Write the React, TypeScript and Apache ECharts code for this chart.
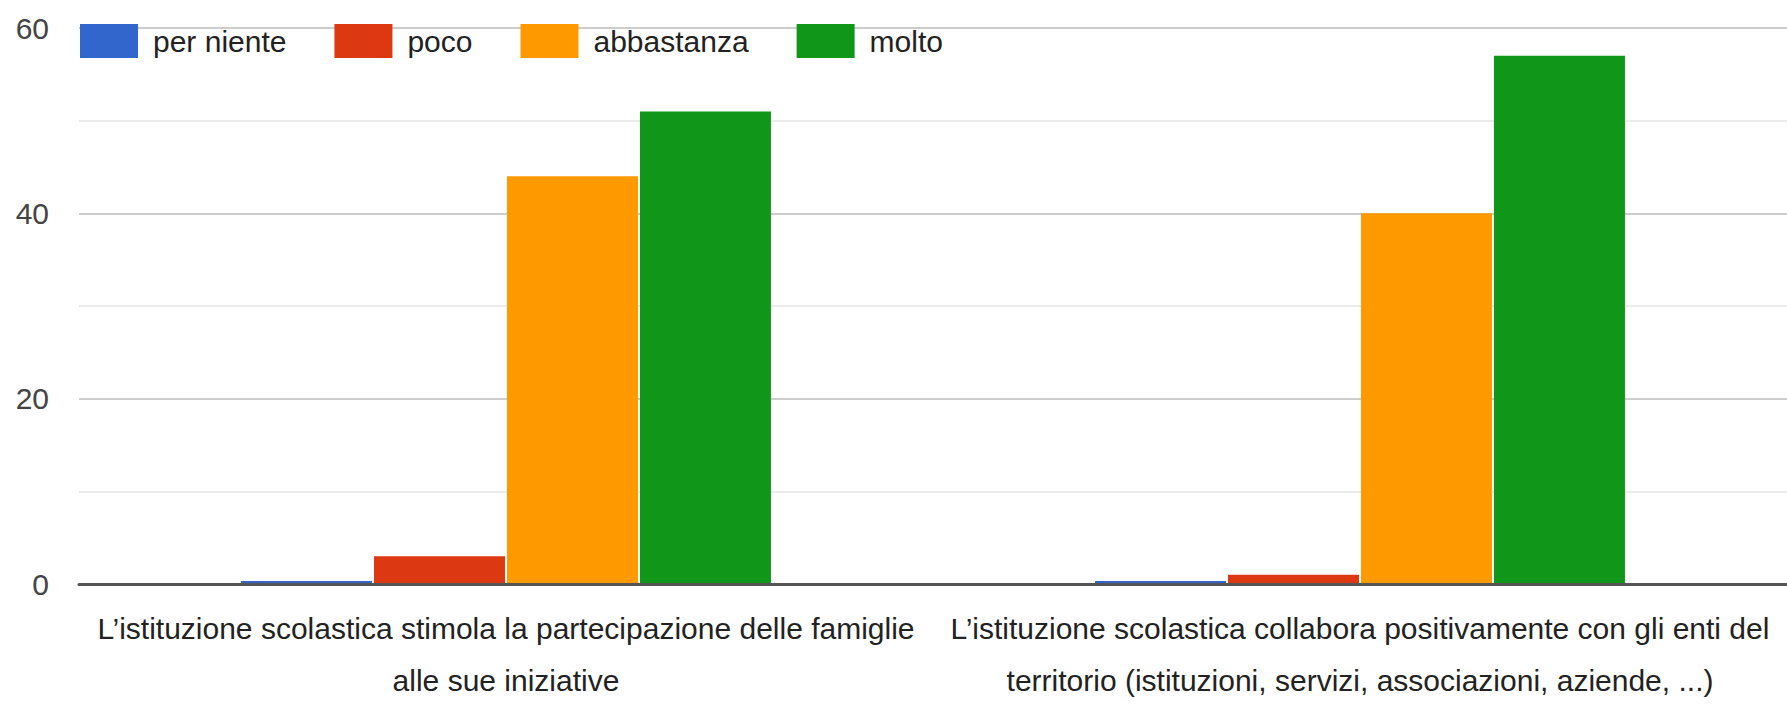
import React, { useEffect, useRef } from "react";
import * as echarts from "echarts";

const categories: string[] = [
  "L’istituzione scolastica stimola la partecipazione delle famiglie\nalle sue iniziative",
  "L’istituzione scolastica collabora positivamente con gli enti del\nterritorio (istituzioni, servizi, associazioni, aziende, ...)",
];
const seriesNames: string[] = ["per niente", "poco", "abbastanza", "molto"];
const perNiente: number[] = [0, 0];
const poco: number[] = [3, 1];
const abbastanza: number[] = [44, 40];
const molto: number[] = [51, 57];
const yTicks: number[] = [0, 20, 40, 60];

const colors = ["#3366cc", "#dc3912", "#ff9900", "#109618"];
const FONT = "'Liberation Sans', Arial, sans-serif";

export default function App() {
  const ref = useRef<HTMLDivElement>(null);
  useEffect(() => {
    if (!ref.current) return;
    const chart = echarts.init(ref.current, undefined, { renderer: "svg" });
    const values = [perNiente, poco, abbastanza, molto];
    chart.setOption({
      animation: false,
      backgroundColor: "#ffffff",
      color: colors,
      textStyle: { fontFamily: FONT },
      legend: {
        left: 80,
        top: 24,
        padding: 0,
        itemWidth: 58,
        itemHeight: 34,
        itemGap: 48,
        icon: "rect",
        data: seriesNames,
        textStyle: {
          fontFamily: FONT,
          fontSize: 30,
          color: "#222222",
          padding: [0, 0, 0, 10],
        },
      },
      grid: { left: 79, right: 0, top: 28, bottom: 114, containLabel: false },
      xAxis: {
        type: "category",
        data: categories,
        z: 3,
        axisTick: { show: false },
        axisLine: { show: true, lineStyle: { color: "#555555", width: 3 } },
        axisLabel: {
          interval: 0,
          hideOverlap: false,
          fontFamily: FONT,
          fontSize: 30,
          lineHeight: 52,
          margin: 18,
          color: "#222222",
          align: "center",
        },
      },
      yAxis: {
        type: "value",
        min: yTicks[0],
        max: yTicks[yTicks.length - 1],
        interval: yTicks[1] - yTicks[0],
        axisLine: { show: false },
        axisTick: { show: false },
        axisLabel: {
          fontFamily: FONT,
          fontSize: 30,
          color: "#444444",
          margin: 30,
        },
        splitLine: { show: true, lineStyle: { color: "#cccccc", width: 2 } },
        minorTick: { show: false, splitNumber: 2 },
        minorSplitLine: { show: true, lineStyle: { color: "#ebebeb", width: 2 } },
      },
      series: seriesNames.map((name, i) => ({
        name,
        type: "bar",
        data: values[i],
        barWidth: 131,
        barGap: "1.5%",
        barMinHeight: i === 0 ? 3 : 0,
        itemStyle: { color: colors[i] },
      })),
    });
    return () => chart.dispose();
  }, []);
  return (
    <div
      ref={ref}
      style={{ position: "fixed", left: 0, top: 0, width: 1787, height: 706 }}
    />
  );
}
